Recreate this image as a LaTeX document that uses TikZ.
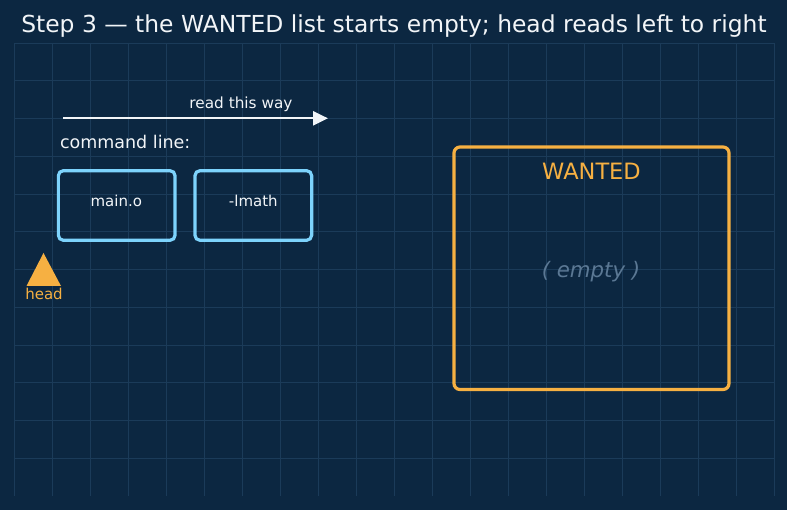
\documentclass[tikz,border=0pt]{standalone}
\usepackage{fontspec}
\setmainfont{DejaVu Sans}
\usetikzlibrary{arrows.meta}
\definecolor{bgnavy}{HTML}{0C2741}
\definecolor{gridc}{HTML}{1B3B59}
\definecolor{skyb}{HTML}{7DD3FC}
\definecolor{amber}{HTML}{F6B042}
\definecolor{mutedtxt}{HTML}{5B7894}
\definecolor{offwhite}{HTML}{F2F5F8}
\tikzset{
  gridline/.style={draw=gridc, line width=0.8pt},
  txt/.style={inner sep=0pt, outer sep=0pt, anchor=base},
  cmdbox/.style={draw=skyb, line width=3.2pt, rounded corners=5pt, minimum width=116.7pt, minimum height=69.6pt, inner sep=0pt, outer sep=0pt},
  wantbox/.style={draw=amber, line width=3.2pt, rounded corners=6pt, minimum width=275pt, minimum height=242.5pt, inner sep=0pt, outer sep=0pt},
  readarrow/.style={draw=offwhite, line width=2.4pt, -{Triangle[length=15pt,width=14pt]}},
}
\begin{document}
\begin{tikzpicture}[x=1pt,y=-1pt]
\fill[bgnavy] (0,0) rectangle (787,510);
\useasboundingbox (0,0) rectangle (787,510);
\foreach \i in {0,...,20} \draw[gridline] ({14+38*\i},43) -- ({14+38*\i},496);
\foreach \j in {0,...,11} \draw[gridline] (14,{43+37.75*\j}) -- (774,{43+37.75*\j});
\node[txt, text=offwhite, font=\fontsize{23.4}{27}\selectfont] (title) at (394,32.3) {Step 3 — the WANTED list starts empty; head reads left to right};
% reading direction
\coordinate (arrA) at (63,118.3);
\coordinate (arrB) at (328,118.3);
\draw[readarrow] (arrA) -- (arrB);
\node[txt, text=offwhite, font=\fontsize{15.3}{18}\selectfont] (readlbl) at (241,108.3) {read this way};
\node[txt, text=offwhite, font=\fontsize{17.5}{20}\selectfont, anchor=base west] (cmdlbl) at (60,149) {command line:};
% command line boxes
\node[cmdbox] (b1) at (116.7,205.5) {};
\node[cmdbox] (b2) at (253.3,205.5) {};
\node[txt, text=offwhite, font=\fontsize{15}{18}\selectfont] (t1) at (116.3,206.5) {main.o};
\node[txt, text=offwhite, font=\fontsize{15}{18}\selectfont] (t2) at (253.3,206.5) {-lmath};
% head marker
\fill[amber] (43.5,253) -- (61,286) -- (26.5,286) -- cycle;
\node[txt, text=amber, font=\fontsize{15}{18}\selectfont] (headlbl) at (44,299.3) {head};
% WANTED list
\node[wantbox] (wanted) at (591.5,268.25) {};
\node[txt, text=amber, font=\fontsize{22.5}{26}\selectfont] (wantedlbl) at (591.5,179.3) {WANTED};
\node[txt, text=mutedtxt, font=\fontsize{21.3}{25}\selectfont\itshape] (emptylbl) at (591,277.5) {( empty )};
\end{tikzpicture}
\end{document}
